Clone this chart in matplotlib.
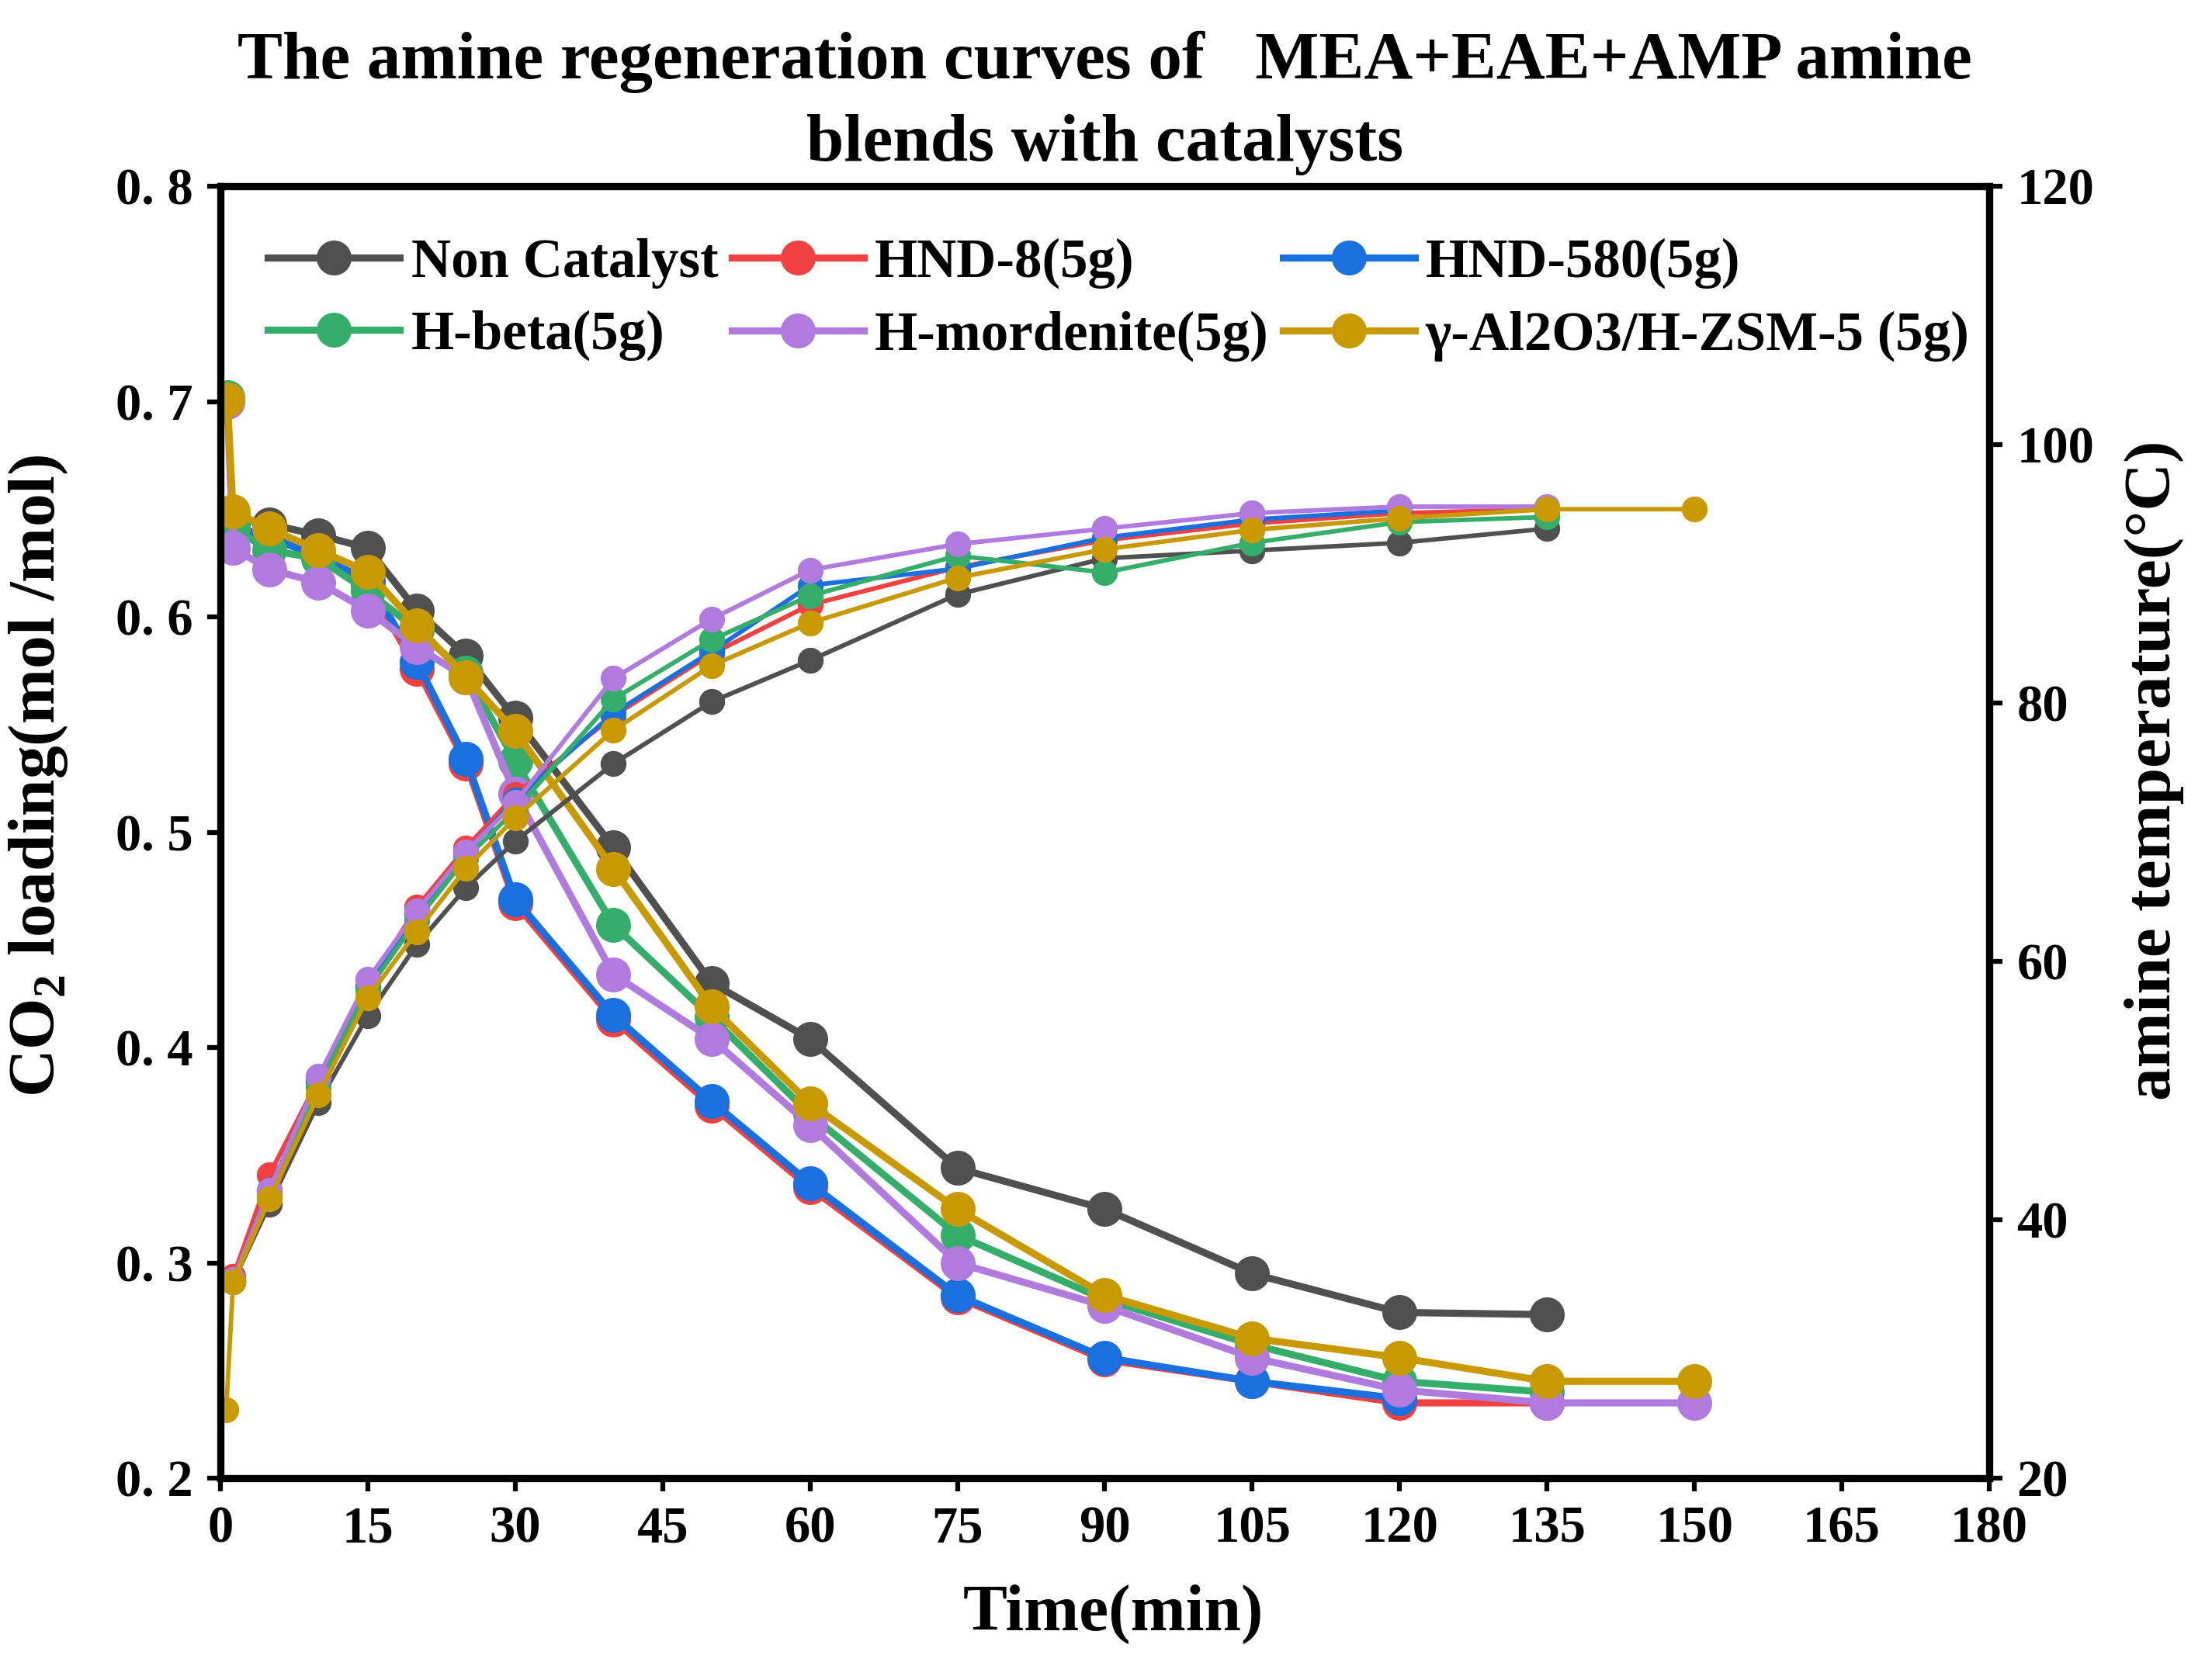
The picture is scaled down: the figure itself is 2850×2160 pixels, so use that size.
import matplotlib
matplotlib.use('Agg')
import matplotlib.pyplot as plt
import numpy as np

plt.rcParams['font.family'] = ['Liberation Serif', 'DejaVu Serif']
plt.rcParams['mathtext.fontset'] = 'custom'
plt.rcParams['mathtext.rm'] = 'Liberation Serif'
plt.rcParams['mathtext.bf'] = 'Liberation Serif:bold'

# time points (min)
t_load_a = [0.7, 1.3, 5, 10, 15, 20, 25, 30, 40, 50, 60, 75, 90, 105, 120, 135, 150]
t_main = [1.3, 5, 10, 15, 20, 25, 30, 40, 50, 60, 75, 90, 105, 120, 135, 150]
t_gold_temp = [0.6, 1.3, 5, 10, 15, 20, 25, 30, 40, 50, 60, 75, 90, 105, 120, 135, 150]

names = ['Non Catalyst', 'HND-8(5g)', 'HND-580(5g)', 'H-beta(5g)',
         'H-mordenite(5g)', 'γ-Al2O3/H-ZSM-5 (5g)']
colors = ['#505050', '#F04040', '#1A70DE', '#36AE6B', '#B07ADE', '#C99A00']

# CO2 loading (mol/mol)
load_non = [0.646, 0.643, 0.638, 0.632, 0.603, 0.582, 0.553, 0.493, 0.430, 0.404,
            0.344, 0.325, 0.295, 0.277, 0.276]
load_hnd8 = [0.642, 0.637, 0.628, 0.615, 0.576, 0.532, 0.467, 0.413, 0.373, 0.335,
             0.284, 0.255, 0.245, 0.235, 0.235]
load_hnd580 = [0.642, 0.637, 0.628, 0.617, 0.579, 0.534, 0.469, 0.415, 0.375, 0.337,
               0.285, 0.256, 0.245, 0.237]
load_beta = [0.702, 0.641, 0.631, 0.627, 0.612, 0.594, 0.574, 0.533, 0.457, 0.414,
             0.369, 0.313, 0.283, 0.262, 0.245, 0.240]
load_mord = [0.700, 0.632, 0.622, 0.616, 0.603, 0.586, 0.572, 0.518, 0.434, 0.404,
             0.364, 0.300, 0.280, 0.256, 0.241, 0.235, 0.235]
load_al = [0.701, 0.649, 0.641, 0.631, 0.621, 0.596, 0.572, 0.547, 0.483, 0.419,
           0.374, 0.325, 0.285, 0.265, 0.256, 0.245, 0.245]

# amine temperature (C)
temp_non = [35.2, 41.2, 49.1, 55.8, 61.3, 65.7, 69.3, 75.3, 80.1, 83.3, 88.4, 91.2,
            91.8, 92.4, 93.5]
temp_hnd8 = [35.6, 43.5, 50.9, 58.1, 64.2, 68.8, 72.9, 79.0, 83.8, 87.6, 90.5, 92.6,
             93.9, 94.7, 95.0]
temp_hnd580 = [35.3, 42.3, 50.7, 58.0, 63.7, 68.4, 72.5, 79.2, 84.0, 89.1, 90.4, 92.8,
               94.2, 94.9]
temp_beta = [35.3, 42.0, 50.3, 57.8, 63.2, 68.0, 71.7, 80.3, 84.9, 88.3, 91.4, 90.1,
             92.4, 94.0, 94.4]
temp_mord = [35.4, 42.3, 51.1, 58.6, 63.9, 68.5, 72.3, 81.9, 86.5, 90.3, 92.3, 93.5,
             94.7, 95.2, 95.2]
temp_al = [25.3, 35.2, 41.6, 49.7, 57.2, 62.3, 67.2, 71.1, 77.9, 82.9, 86.2, 89.7,
           91.9, 93.4, 94.3, 95.0, 95.0]

loads = [(t_main, load_non), (t_main, load_hnd8), (t_main, load_hnd580),
         (t_load_a, load_beta), (t_load_a, load_mord), (t_load_a, load_al)]
temps = [(t_main, temp_non), (t_main, temp_hnd8), (t_main, temp_hnd580),
         (t_main, temp_beta), (t_main, temp_mord), (t_gold_temp, temp_al)]

fig, ax = plt.subplots(figsize=(9.5, 7.2), dpi=300)
fig.subplots_adjust(left=0.0996, right=0.8993, top=0.8889, bottom=0.118)
ax2 = ax.twinx()

handles = []
for (tx, ly), name, c in zip(loads, names, colors):
    h, = ax.plot(tx[:len(ly)], ly, '-o', color=c, lw=2.2, ms=9.8, label=name)
    handles.append(h)
for (tx, ty), c in zip(temps, colors):
    ax2.plot(tx[:len(ty)], ty, '-o', color=c, lw=1.4, ms=7)

ax.set_xlim(0, 180)
ax.set_ylim(0.2, 0.8)
ax2.set_ylim(20, 120)
ax.set_xticks(np.arange(0, 181, 15))
yt = np.arange(0.2, 0.81, 0.1)
ax.set_yticks(yt)
ax.set_yticklabels([f'{v:.1f}'.replace('.', '. ') for v in yt])
ax2.set_yticks(np.arange(20, 121, 20))

for a in (ax, ax2):
    for s in a.spines.values():
        s.set_linewidth(2.2)
    a.tick_params(direction='out', length=4, width=1.5, labelsize=16, pad=4.5)
    for lab in a.get_xticklabels() + a.get_yticklabels():
        lab.set_fontweight('bold')

ax.set_title('The amine regeneration curves of   MEA+EAE+AMP amine\nblends with catalysts',
             fontsize=20.9, fontweight='bold', pad=8, linespacing=1.45)
ax.set_xlabel('Time(min)', fontsize=20.5, fontweight='bold')
ax.xaxis.set_label_coords(0.5046, -0.082)
ax.set_ylabel(r'CO$_{\mathbf{2}}$ loading(mol /mol)', fontsize=20.5, fontweight='bold')
ax.yaxis.set_label_coords(-0.085, 0.5435)
ax2.set_ylabel('amine temperature(°C)', fontsize=20.5, fontweight='bold')
ax2.yaxis.set_label_coords(1.0764, 0.548)

order = [0, 3, 1, 4, 2, 5]
leg = ax2.legend([handles[i] for i in order], [names[i] for i in order],
                 ncol=3, frameon=False, loc='upper left',
                 bbox_to_anchor=(0.027, 0.96), borderaxespad=0, borderpad=0,
                 prop={'size': 17, 'weight': 'bold'}, handlelength=2.4,
                 handletextpad=0.2, columnspacing=0.25, labelspacing=0.4)

fig.savefig('out.png', dpi=300)
